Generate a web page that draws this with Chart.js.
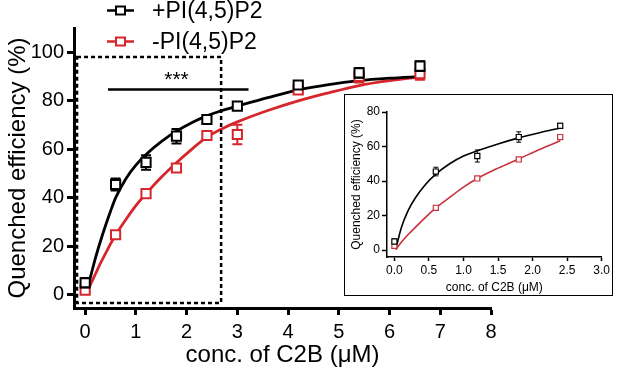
<!DOCTYPE html>
<html><head><meta charset="utf-8">
<script src="https://cdn.jsdelivr.net/npm/chart.js@4"></script>
<style>
html,body{margin:0;padding:0;background:#fff;}
#wrap{position:relative;width:617px;height:376px;overflow:hidden;background:#fff;}
#main{position:absolute;left:0;top:0;}
#insetBox{position:absolute;left:344px;top:94px;width:267px;height:200px;border:1.5px solid #000;background:#fff;}
#inset{position:absolute;left:0;top:0;}
</style></head><body>
<div id="wrap"><canvas id="main" width="617" height="376"></canvas>
<div id="insetBox"><canvas id="inset" width="267" height="200"></canvas></div></div>
<script>
const FONT = '"Liberation Sans", Arial, Helvetica, sans-serif';
const BLACK = '#000000';
const RED = '#d7262b';
const RED_INSET = '#c8323c';

// ---------- main chart data ----------
const seriesLabels = ['+PI(4,5)P2', '-PI(4,5)P2'];
const conc = [0, 0.6, 1.2, 1.8, 2.4, 3.0, 4.2, 5.4, 6.6];
const plusMean = [5, 45.5, 54.6, 65.4, 72.3, 77.8, 86.5, 91.5, 94.3];
const plusErr = [2, 2.5, 3, 3, 1.5, 1, 1.5, 2, 2];
const minusMean = [2, 24.8, 41.7, 52.3, 65.7, 66.1, 84.5, 90, 91.2];
const minusErr = [1.5, 1, 1, 1, 1, 4, 1.5, 2.5, 2.5];
const fitX = [0.02, 0.1, 0.2, 0.3, 0.4, 0.5, 0.6, 0.8, 1.0, 1.2, 1.5, 1.8, 2.1, 2.4, 2.7, 3.0, 3.6, 4.2, 4.8, 5.4, 6.0, 6.6];
const plusFit = [0, 7, 15, 22, 28.5, 34.5, 40, 47.8, 53.5, 57.9, 63.2, 67.5, 71, 73.8, 76, 77.8, 81.3, 84.5, 86.7, 88.3, 89.3, 90];
const minusFit = [0.5, 4, 8.5, 13, 17, 21, 24.7, 31, 36.8, 41.7, 48.5, 54.5, 60, 65, 68.5, 71.3, 76, 80, 83.3, 86.3, 88.3, 89.8];
const xTicks = [0, 1, 2, 3, 4, 5, 6, 7, 8];
const yTicks = [0, 20, 40, 60, 80, 100];
const zoomBoxX = [-0.16, 2.68];
const zoomBoxY = [-3.3, 98];
const sigLineX = [0.45, 3.22];
const sigLineY = 84.7;
const sigText = '***';
const sigTextAt = [1.8, 88.5];

// ---------- inset data ----------
const insetConc = [0, 0.6, 1.2, 1.8, 2.4];
const insetPlusMean = [5, 45.5, 54.5, 65.5, 72];
const insetPlusErr = [1.5, 2.5, 3.5, 3, 1.5];
const insetMinusMean = [2.5, 24.5, 41.5, 52.5, 65.5];
const insetMinusErr = [0.8, 0.8, 0.8, 0.8, 0.8];
const insetFitX = [0.02, 0.1, 0.2, 0.3, 0.45, 0.6, 0.8, 1.0, 1.2, 1.5, 1.8, 2.1, 2.4];
const insetPlusFit = [0.5, 13, 23, 30, 38, 44, 50, 54.5, 57.5, 61.5, 65, 68, 70.7];
const insetMinusFit = [0.3, 4.5, 9, 13, 19, 24.5, 30.5, 36.5, 41.5, 47.5, 52.8, 58.3, 63.3];
const insetXTicks = [0, 0.5, 1.0, 1.5, 2.0, 2.5, 3.0];
const insetYTicks = [0, 20, 40, 60, 80];

const xyOf = (xs, ys) => xs.map((x, i) => ({x, y: ys[i]}));

const errorBarPlugin = {
  id: 'errorBars',
  beforeDatasetDraw(chart, args, opts) {
    const ds = chart.data.datasets[args.index];
    if (!ds.errors) return;
    const meta = chart.getDatasetMeta(args.index);
    const ys = chart.scales.y;
    const ctx = chart.ctx;
    ctx.save();
    ctx.strokeStyle = ds.borderColor;
    ctx.lineWidth = opts.lineWidth;
    meta.data.forEach((pt, i) => {
      const v = ds.data[i].y, e = ds.errors[i];
      const yt = ys.getPixelForValue(v + e), yb = ys.getPixelForValue(v - e);
      ctx.beginPath();
      ctx.moveTo(pt.x, yt); ctx.lineTo(pt.x, yb);
      ctx.moveTo(pt.x - opts.cap, yt); ctx.lineTo(pt.x + opts.cap, yt);
      ctx.moveTo(pt.x - opts.cap, yb); ctx.lineTo(pt.x + opts.cap, yb);
      ctx.stroke();
    });
    ctx.restore();
  }
};

const annotPlugin = {
  id: 'annot',
  afterDatasetsDraw(chart) {
    const ctx = chart.ctx, xs = chart.scales.x, ys = chart.scales.y;
    ctx.save();
    // dashed zoom box
    ctx.strokeStyle = BLACK; ctx.lineWidth = 2.5; ctx.setLineDash([4, 3]);
    const x1 = xs.getPixelForValue(zoomBoxX[0]), x2 = xs.getPixelForValue(zoomBoxX[1]);
    const y1 = ys.getPixelForValue(zoomBoxY[1]), y2 = ys.getPixelForValue(zoomBoxY[0]);
    ctx.strokeRect(x1, y1, x2 - x1, y2 - y1);
    ctx.setLineDash([]);
    // significance line
    ctx.lineWidth = 2.5;
    ctx.beginPath();
    ctx.moveTo(xs.getPixelForValue(sigLineX[0]), ys.getPixelForValue(sigLineY));
    ctx.lineTo(xs.getPixelForValue(sigLineX[1]), ys.getPixelForValue(sigLineY));
    ctx.stroke();
    ctx.fillStyle = BLACK;
    ctx.font = '21px ' + FONT;
    ctx.textAlign = 'center'; ctx.textBaseline = 'middle';
    ctx.fillText(sigText, xs.getPixelForValue(sigTextAt[0]), ys.getPixelForValue(sigTextAt[1]));
    // legend
    const items = [{c: BLACK, y: 10.5}, {c: RED, y: 41.5}];
    items.forEach((it, i) => {
      ctx.strokeStyle = it.c; ctx.lineWidth = 2.5;
      ctx.beginPath(); ctx.moveTo(107, it.y); ctx.lineTo(134, it.y); ctx.stroke();
      ctx.fillStyle = '#fff'; ctx.lineWidth = 2;
      ctx.fillRect(116, it.y - 4, 9, 8); ctx.strokeRect(116, it.y - 4, 9, 8);
      ctx.fillStyle = BLACK;
      ctx.font = '23px ' + FONT;
      ctx.textAlign = 'left'; ctx.textBaseline = 'middle';
      ctx.fillText(seriesLabels[i], 152, it.y + 1);
    });
    ctx.restore();
  }
};

function axisCommon(fontSize, tickLen, lw) {
  return {
    grid: {display: true, drawOnChartArea: false, drawTicks: true, tickLength: tickLen, tickWidth: lw, tickColor: BLACK},
    border: {display: true, width: lw, color: BLACK},
  };
}

// ---------- main chart ----------
new Chart(document.getElementById('main'), {
  type: 'scatter',
  data: {
    datasets: [
      {label: seriesLabels[0], data: xyOf(conc, plusMean), errors: plusErr, borderColor: BLACK, backgroundColor: '#fff',
       pointStyle: 'rect', pointRadius: 6.5, borderWidth: 2, showLine: false, order: 0, clip: false},
      {label: seriesLabels[1], data: xyOf(conc, minusMean), errors: minusErr, borderColor: RED, backgroundColor: '#fff',
       pointStyle: 'rect', pointRadius: 6.5, borderWidth: 2, showLine: false, order: 0, clip: false},
      {label: 'fit+', data: xyOf(fitX, plusFit), borderColor: BLACK, borderWidth: 2.8, pointRadius: 0, showLine: true,
       cubicInterpolationMode: 'monotone', order: 2, clip: false},
      {label: 'fit-', data: xyOf(fitX, minusFit), borderColor: RED, borderWidth: 2.8, pointRadius: 0, showLine: true,
       cubicInterpolationMode: 'monotone', order: 3, clip: false},
    ]
  },
  options: {
    responsive: false, animation: false, devicePixelRatio: 1, events: [],
    layout: {padding: {left: 0, right: 126, top: 28, bottom: 0}},
    plugins: {legend: {display: false}, tooltip: {enabled: false}, errorBars: {lineWidth: 2, cap: 5}},
    scales: {
      x: Object.assign(axisCommon(20, 7, 3), {
        type: 'linear', min: -0.22, max: 8,
        afterBuildTicks: s => { s.ticks = xTicks.map(v => ({value: v})); },
        afterFit: s => { s.height = 68; },
        ticks: {color: BLACK, font: {family: FONT, size: 20}, padding: 5, maxRotation: 0, autoSkip: false},
        title: {display: true, text: 'conc. of C2B (\u03bcM)', color: BLACK, font: {family: FONT, size: 24}, padding: {top: 0, bottom: 6}}
      }),
      y: Object.assign(axisCommon(20, 7, 3), {
        type: 'linear', min: -5.4, max: 110,
        afterBuildTicks: s => { s.ticks = yTicks.map(v => ({value: v})); },
        afterFit: s => { s.width = 74; },
        ticks: {color: BLACK, font: {family: FONT, size: 20}, padding: 3},
        title: {display: true, text: 'Quenched efficiency (%)', color: BLACK, font: {family: FONT, size: 24}, padding: {top: 4, bottom: 0}}
      })
    }
  },
  plugins: [errorBarPlugin, annotPlugin]
});

// ---------- inset chart ----------
new Chart(document.getElementById('inset'), {
  type: 'scatter',
  data: {
    datasets: [
      {data: xyOf(insetConc, insetPlusMean), errors: insetPlusErr, borderColor: BLACK, backgroundColor: '#fff',
       pointStyle: 'rect', pointRadius: 3.6, borderWidth: 1.2, showLine: false, order: 0, clip: false},
      {data: xyOf(insetConc, insetMinusMean), errors: insetMinusErr, borderColor: RED_INSET, backgroundColor: '#fff',
       pointStyle: 'rect', pointRadius: 3.6, borderWidth: 1.2, showLine: false, order: 0, clip: false},
      {data: xyOf(insetFitX, insetPlusFit), borderColor: BLACK, borderWidth: 1.6, pointRadius: 0, showLine: true,
       cubicInterpolationMode: 'monotone', order: 2, clip: false},
      {data: xyOf(insetFitX, insetMinusFit), borderColor: RED_INSET, borderWidth: 1.6, pointRadius: 0, showLine: true,
       cubicInterpolationMode: 'monotone', order: 3, clip: false},
    ]
  },
  options: {
    responsive: false, animation: false, devicePixelRatio: 1, events: [],
    layout: {padding: {left: 0, right: 10, top: 17, bottom: 0}},
    plugins: {legend: {display: false}, tooltip: {enabled: false}, errorBars: {lineWidth: 1, cap: 2.5}},
    scales: {
      x: Object.assign(axisCommon(12, 4, 1.5), {
        type: 'linear', min: -0.107, max: 3.0,
        afterBuildTicks: s => { s.ticks = insetXTicks.map(v => ({value: v})); },
        afterFit: s => { s.height = 38; },
        ticks: {color: BLACK, font: {family: FONT, size: 12}, padding: 2, maxRotation: 0, autoSkip: false,
                callback: v => Number(v).toFixed(1)},
        title: {display: true, text: 'conc. of C2B (\u03bcM)', color: BLACK, font: {family: FONT, size: 12}, padding: {top: 0, bottom: 0}}
      }),
      y: Object.assign(axisCommon(12, 5, 1.5), {
        type: 'linear', min: -4, max: 80,
        afterBuildTicks: s => { s.ticks = insetYTicks.map(v => ({value: v})); },
        afterFit: s => { s.width = 42; },
        ticks: {color: BLACK, font: {family: FONT, size: 12}, padding: 2},
        title: {display: true, text: 'Quenched efficiency (%)', color: BLACK, font: {family: FONT, size: 12}, padding: {top: 4, bottom: 0}}
      })
    }
  },
  plugins: [errorBarPlugin]
});
</script>
</body></html>
